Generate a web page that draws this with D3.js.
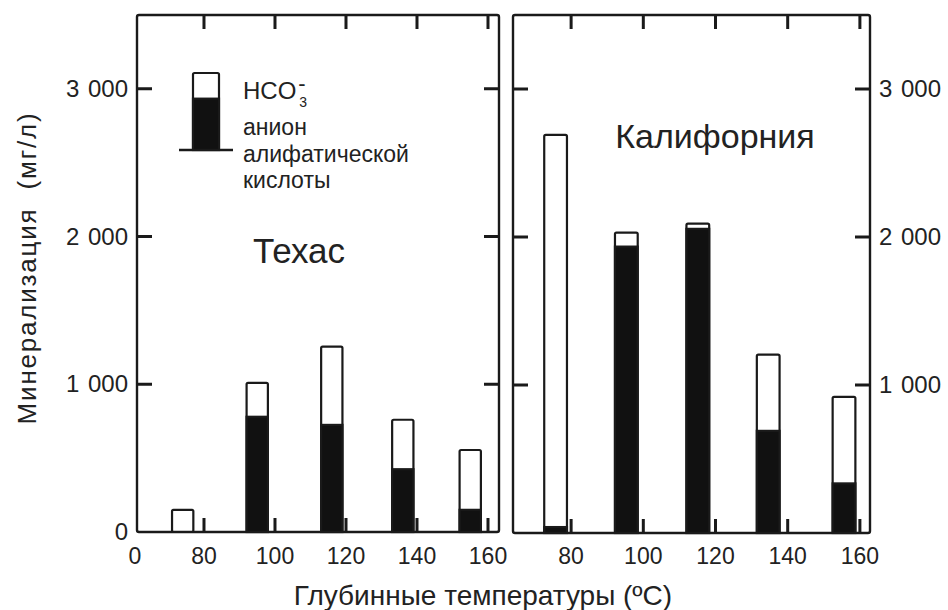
<!DOCTYPE html>
<html>
<head>
<meta charset="utf-8">
<script src="https://cdn.jsdelivr.net/npm/d3@7/dist/d3.min.js"></script>
<style>
  html, body { margin: 0; padding: 0; background: #fff; }
  svg { display: block; }
  text { font-family: "Liberation Sans", Arial, sans-serif; fill: #222; }
</style>
</head>
<body>
<svg id="chart" width="948" height="610"></svg>
<script>
// Mineralisation of formation waters by reservoir temperature
const tempTicks = [80, 100, 120, 140, 160];
const yTicks = [1000, 2000, 3000];

// Texas
const texasTemps = [74, 95, 116, 136, 155];
const texasTotal = [150, 1010, 1255, 760, 555];
const texasAliphatic = [0, 780, 725, 425, 150];

// California
const califTemps = [75.7, 95.3, 115.1, 134.6, 155.6];
const califTotal = [2690, 2030, 2090, 1205, 920];
const califAliphatic = [40, 1935, 2055, 690, 335];

const svg = d3.select("#chart");
const ink = "#1a1a1a";

const panels = [
  { name: "Техас", temps: texasTemps, total: texasTotal, aliph: texasAliphatic,
    x0: 137, x1: 499, y0: 15, y1: 532, dom: [61.13, 163.1], barW: 6.0,
    label: [299, 263], labelSize: 35 },
  { name: "Калифорния", temps: califTemps, total: califTotal, aliph: califAliphatic,
    x0: 513, x1: 870, y0: 15, y1: 533, dom: [63.9, 162.8], barW: 6.3,
    label: [715, 148], labelSize: 34 }
];

const fmt = d => d3.format(",")(d).replace(",", " ");

panels.forEach((p, i) => {
  const x = d3.scaleLinear().domain(p.dom).range([p.x0, p.x1]);
  const y = d3.scaleLinear().domain([0, 3500]).range([p.y1, p.y0]);
  const g = svg.append("g");

  // bars: open outline for the total, filled part for aliphatic anions
  p.temps.forEach((t, k) => {
    const bx = x(t - p.barW / 2), bw = x(t + p.barW / 2) - x(t - p.barW / 2);
    g.append("rect")
      .attr("x", bx).attr("y", y(p.total[k]))
      .attr("width", bw).attr("height", y(0) - y(p.total[k]))
      .attr("rx", 1.5)
      .attr("fill", "#fff").attr("stroke", ink).attr("stroke-width", 2.2);
    if (p.aliph[k] > 0) {
      g.append("rect")
        .attr("x", bx).attr("y", y(p.aliph[k]))
        .attr("width", bw).attr("height", y(0) - y(p.aliph[k]))
        .attr("fill", "#111").attr("stroke", ink).attr("stroke-width", 2.2);
    }
  });

  // frame
  g.append("rect")
    .attr("x", p.x0).attr("y", p.y0)
    .attr("width", p.x1 - p.x0).attr("height", p.y1 - p.y0)
    .attr("rx", 2)
    .attr("fill", "none").attr("stroke", ink).attr("stroke-width", 2.4);

  // inward ticks on all four sides, as one path
  const tp = d3.path();
  yTicks.forEach(d => {
    tp.moveTo(p.x0, y(d)); tp.lineTo(p.x0 + 15, y(d));
    tp.moveTo(p.x1, y(d)); tp.lineTo(p.x1 - 15, y(d));
  });
  tempTicks.forEach(d => {
    tp.moveTo(x(d), p.y1); tp.lineTo(x(d), p.y1 - 14);
    tp.moveTo(x(d), p.y0); tp.lineTo(x(d), p.y0 + 14);
  });
  g.append("path").attr("d", tp.toString())
    .attr("fill", "none").attr("stroke", ink).attr("stroke-width", 3);

  // temperature labels
  g.selectAll(".tl").data(tempTicks).enter().append("text")
    .attr("x", d => x(d)).attr("y", 564)
    .attr("text-anchor", "middle").attr("font-size", 23)
    .text(d => d);

  // y labels: left of the first panel, right of the second
  if (i === 0) {
    g.selectAll(".yl").data([0, ...yTicks]).enter().append("text")
      .attr("x", 128).attr("y", d => y(d) + 8)
      .attr("text-anchor", "end").attr("font-size", 24).attr("word-spacing", 2)
      .text(fmt);
    g.append("text").attr("x", 135).attr("y", 564)
      .attr("text-anchor", "middle").attr("font-size", 23).text("0");
  } else {
    g.selectAll(".yl").data(yTicks).enter().append("text")
      .attr("x", 879).attr("y", d => y(d) + 8)
      .attr("text-anchor", "start").attr("font-size", 24).attr("word-spacing", 2)
      .text(fmt);
  }

  // region name
  g.append("text")
    .attr("x", p.label[0]).attr("y", p.label[1])
    .attr("text-anchor", "middle").attr("font-size", p.labelSize)
    .text(p.name);
});

// legend (Texas panel): a sample bar with its baseline
const lg = svg.append("g");
const legTotal = 3000, legAliph = 2000;
const legBase = 150, legTop = 73;
const ls = d3.scaleLinear().domain([0, legTotal]).range([legBase, legTop]);
lg.append("rect").attr("x", 193).attr("y", ls(legTotal)).attr("width", 26)
  .attr("height", legBase - ls(legTotal)).attr("rx", 1.5)
  .attr("fill", "#fff").attr("stroke", ink).attr("stroke-width", 2.2);
lg.append("rect").attr("x", 193).attr("y", ls(legAliph)).attr("width", 26)
  .attr("height", legBase - ls(legAliph))
  .attr("fill", "#111").attr("stroke", ink).attr("stroke-width", 2.2);
lg.append("path").attr("d", `M179,${legBase}H233`)
  .attr("stroke", ink).attr("stroke-width", 2.4);

// HCO3- with stacked sub/superscript
const hco = lg.append("text").attr("x", 243).attr("y", 99).attr("font-size", 24);
hco.append("tspan").text("HCO");
hco.append("tspan").attr("font-size", 14).attr("dx", 3).attr("dy", 8).text("3");
hco.append("tspan").attr("font-size", 22).attr("dx", -9).attr("dy", -16).text("-");
[["анион", 135], ["алифатической", 162], ["кислоты", 188]].forEach(([t, yy]) => {
  lg.append("text").attr("x", 243).attr("y", yy).attr("font-size", 23).text(t);
});

// axis titles
svg.append("text")
  .attr("transform", "translate(36,268) rotate(-90)")
  .attr("text-anchor", "middle").attr("font-size", 26).attr("letter-spacing", 1.8)
  .attr("xml:space", "preserve")
  .text("Минерализация  (мг/л)");
svg.append("text")
  .attr("x", 483).attr("y", 605)
  .attr("text-anchor", "middle").attr("font-size", 28)
  .text("Глубинные температуры (ºC)");
</script>
</body>
</html>
